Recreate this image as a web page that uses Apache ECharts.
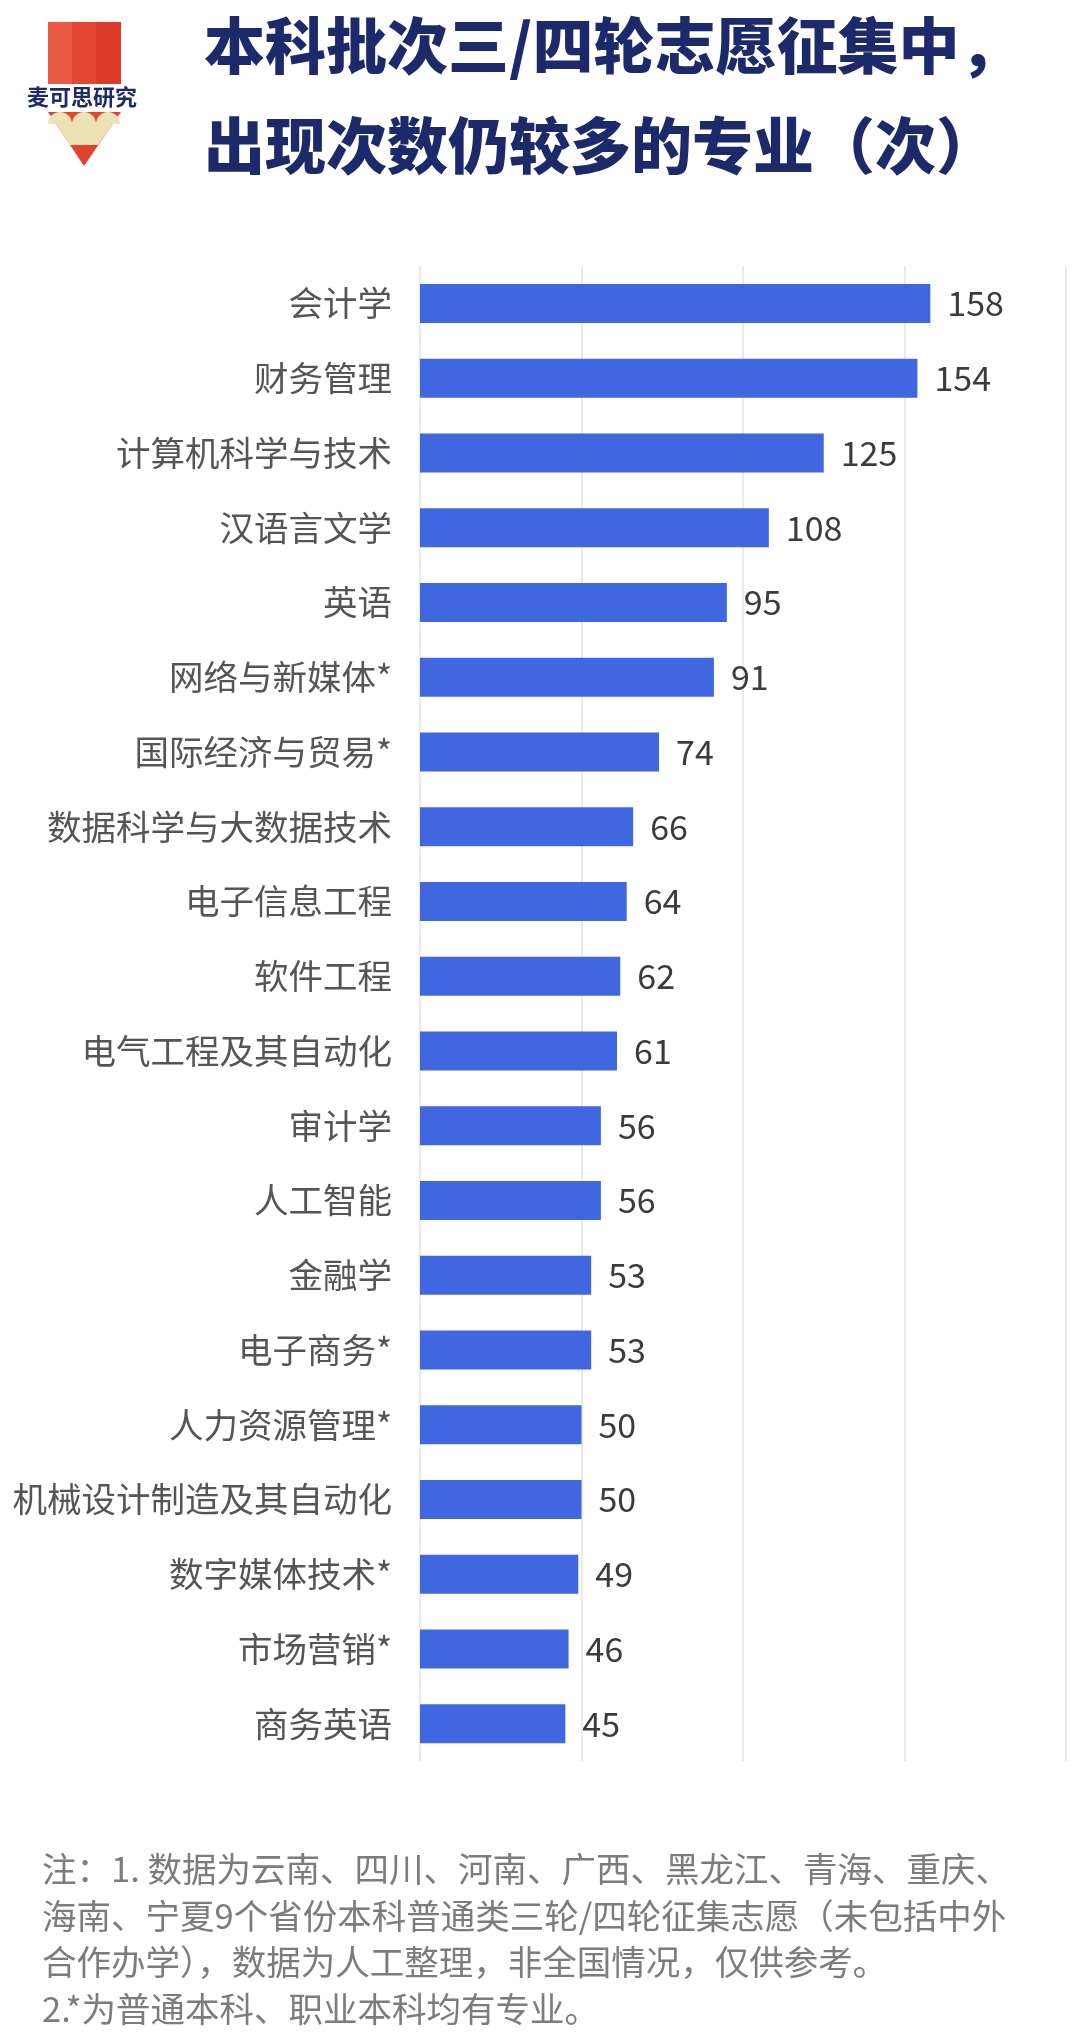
<!DOCTYPE html>
<html>
<head>
<meta charset="utf-8">
<script src="https://cdn.jsdelivr.net/npm/echarts@6/dist/echarts.min.js"></script>
<style>
html,body{margin:0;padding:0;background:#ffffff;}
#chart{width:1080px;height:2037px;}
</style>
</head>
<body>
<div id="chart"></div>
<script>
var categories = ['会计学','财务管理','计算机科学与技术','汉语言文学','英语','网络与新媒体*','国际经济与贸易*','数据科学与大数据技术','电子信息工程','软件工程','电气工程及其自动化','审计学','人工智能','金融学','电子商务*','人力资源管理*','机械设计制造及其自动化','数字媒体技术*','市场营销*','商务英语'];
var values = [158,154,125,108,95,91,74,66,64,62,61,56,56,53,53,50,50,49,46,45];
var titleLines = ['本科批次三/四轮志愿征集中，','出现次数仍较多的专业（次）'];
var noteLines = ['注：1. 数据为云南、四川、河南、广西、黑龙江、青海、重庆、','海南、宁夏9个省份本科普通类三轮/四轮征集志愿（未包括中外','合作办学），数据为人工整理，非全国情况，仅供参考。','2.*为普通本科、职业本科均有专业。'];
var logoText = '麦可思研究';

var FONT = '"Noto Sans CJK SC","Noto Sans",sans-serif';
var chart = echarts.init(document.getElementById('chart'), null, {renderer:'canvas'});

var graphics = [
  // pencil body stripes
  {type:'rect', shape:{x:48,y:22,width:25,height:62}, style:{fill:'#EA5A42'}},
  {type:'rect', shape:{x:72,y:22,width:25,height:62}, style:{fill:'#E4472F'}},
  {type:'rect', shape:{x:96,y:22,width:25,height:62}, style:{fill:'#DC3C27'}},
  // tip
  {type:'polygon', shape:{points:[[48,112],[121,112],[84,166]]}, style:{fill:'#E0442E'}},
  {type:'polygon', shape:{points:[[56,124],[113,124],[98,145],[70,145]]}, style:{fill:'#EEE2B4'}},
  {type:'sector', shape:{cx:60,cy:124,r:12,startAngle:Math.PI,endAngle:2*Math.PI}, style:{fill:'#EEE2B4'}},
  {type:'sector', shape:{cx:84,cy:124,r:12,startAngle:Math.PI,endAngle:2*Math.PI}, style:{fill:'#EEE2B4'}},
  {type:'sector', shape:{cx:108,cy:124,r:12,startAngle:Math.PI,endAngle:2*Math.PI}, style:{fill:'#EEE2B4'}},
  {type:'text', x:27, y:97, style:{text:logoText, fill:'#1d2a6a', font:'bold 22px ' + FONT, textVerticalAlign:'middle', verticalAlign:'middle'}}
];
titleLines.forEach(function(t,i){
  graphics.push({type:'text', x:204, y:46 + i*100, style:{text:t, fill:'#1c2a6b', font:'900 61px ' + FONT, textVerticalAlign:'middle', verticalAlign:'middle'}});
});
noteLines.forEach(function(t,i){
  graphics.push({type:'text', x:42, y:1869 + i*46.5, style:{text:t, fill:'#7c7c7c', font:'34.5px ' + FONT, textVerticalAlign:'middle', verticalAlign:'middle'}});
});

var option = {
  backgroundColor:'#ffffff',
  textStyle:{fontFamily:FONT},
  grid:{left:420, right:14, top:266, bottom:276, containLabel:false},
  xAxis:{
    type:'value', min:0, max:200, interval:50,
    axisLabel:{show:false}, axisLine:{show:false}, axisTick:{show:false},
    splitLine:{show:true, lineStyle:{color:'#e3e3e3', width:1.5}}
  },
  yAxis:{
    type:'category', data:categories, inverse:true,
    axisLine:{show:false}, axisTick:{show:false},
    axisLabel:{fontSize:34.5, color:'#555555', margin:28, fontFamily:FONT}
  },
  series:[{
    type:'bar', data:values, barWidth:39,
    itemStyle:{color:'#4067E0'},
    label:{show:true, position:'right', distance:17, fontSize:34, color:'#3b3b3b', fontFamily:FONT},
    animation:false
  }],
  animation:false,
  graphic: graphics
};
chart.setOption(option);
</script>
</body>
</html>
